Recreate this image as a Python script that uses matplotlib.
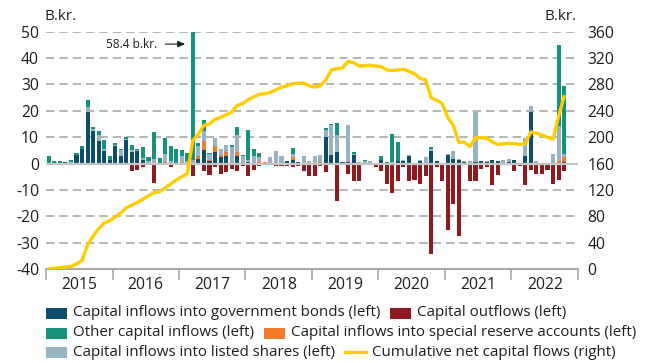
import numpy as np
import matplotlib
matplotlib.use("Agg")
import matplotlib.pyplot as plt
from matplotlib.patches import Rectangle
from matplotlib.lines import Line2D

plt.rcParams['font.family'] = ['Open Sans', 'DejaVu Sans']
plt.rcParams['axes.unicode_minus'] = False

# monthly flows, Jan 2015 - Oct 2022, b.kr.
years = ['2015', '2016', '2017', '2018', '2019', '2020', '2021', '2022']

gov_bonds = [
    0, 0, 0, 0.5, 0, 3.4, 5.7, 19.4, 12.2, 8.4, 4.9, 1.3,
    6.5, 3.0, 8.9, 4.3, 4.9, 1.5, 0, 0, 0, 0, 0, 0,
    0, 0, 0, 1.9, 5.3, 1.0, 4.2, 2.3, 3.0, 0, 2.8, 0,
    0.4, 0, 0, 0, 0, 0, 0, 1.1, 1.5, 0.4, 0, 0,
    0, 0, 9.9, 3.2, 4.2, 0.4, 0.4, 3.2, 0, 0, 0, 0,
    1.5, 0, 0, 1.1, 1.1, 2.7, 0, 1.1, 0, 4.6, 1.1, 0,
    3.4, 1.9, 1.5, 0.4, 0, 0.4, 0.8, 0.5, 1.5, 0.8, 0, 0.4,
    1.5, 0, 3.0, 19.4, 0, 0, 0, 0, 0, 0.6,
]
special_reserve = [
    0, 0, 0, 0, 0, 0, 0, 0, 0, 0, 0, 0,
    0, 0, 0, 0, 0, 0, 0, 0, 0, 0.4, 0, 0,
    0, 0, 0, 0.9, 3.4, 0.4, 2.3, 1.1, 1.5, 0, 1.4, 0,
    0, 0, 0.6, 0.4, 0, 0, 0, 0, 1.1, 0, 0, 0,
    0, 0.4, 0, 0, 0, 0, 0, 0, 0, 0, 0, 0,
    0, 0, 0, 0, 0, 0, 0, 0, 0, 0, 0, 0,
    0, 0, 0, 0, 0, 0, 0, 0, 0, 0, 0, 0,
    0, 0, 0, 0, 0, 0, 0, 0, 1.1, 1.9,
]
listed_shares = [
    0, 0, 0, 0, 0.5, 0, 0, 2.0, 0.8, 2.3, 0.8, 0,
    0.5, 2.2, 0.4, 0.9, 0.3, 0.5, 1.0, 1.9, 0.2, 3.3, 1.1, 0,
    2.7, 1.0, 1.4, 4.0, 3.8, 2.4, 3.0, 2.3, 2.7, 6.1, 6.8, 2.8,
    1.0, 2.7, 2.0, 0, 2.3, 4.6, 3.0, 0, 1.1, 0, 2.7, 0.8,
    3.0, 2.8, 2.7, 11.6, 6.6, 0, 14.1, 0.6, 0.4, 1.1, 0.8, 0.3,
    0, 0, 0.4, 0, 0.4, 0.4, 0, 0.4, 2.3, 1.1, 0, 0,
    0.4, 3.0, 0.4, 0.4, 1.1, 19.0, 0, 0.3, 0, 0, 1.5, 1.5,
    0, 0.2, 6.8, 2.3, 0.8, 0.3, 0.2, 3.8, 13.0, 1.0,
]
other_inflows = [
    2.8, 1.1, 1.1, 0, 0.7, 0.5, 0.9, 2.7, 0.7, 1.6, 3.4, 1.4,
    0.8, 0.5, 0.8, 2.0, 0.5, 4.4, 1.3, 9.9, 1.8, 5.8, 5.4, 5.7,
    2.3, 3.0, 57.0, 0.8, 4.2, 0.3, 0, 0, 0, 0.8, 2.8, 0.4,
    11.5, 2.7, 1.5, 0.3, 0, 0, 0, 0, 2.3, 0, 0, 0,
    0, 0, 0.8, 0.3, 4.4, 0, 0, 0.5, 0, 0.4, 0, 0,
    1.5, 0.4, 10.8, 7.0, 0, 0, 0, 0, 0, 0.4, 0, 0,
    0, 0, 0, 0, 0, 0, 0, 0, 0, 0, 0, 0,
    0, 0, 0, 0, 0, 0, 0, 0, 30.8, 25.9,
]
outflows = [
    0, -0.3, -0.3, 0, 0, -0.3, 0, 0, -0.6, -0.3, -0.3, -0.3,
    -0.6, -0.3, -0.3, -3.0, -2.3, -1.5, -0.3, -7.2, -0.6, -0.4, -1.4, -0.3,
    -0.3, -0.3, -4.9, -0.3, -2.7, -4.2, -1.4, -3.8, -3.4, -1.9, -2.7, -1.1,
    -4.6, -2.3, -0.8, -0.3, 0, -0.8, -0.8, -1.1, -1.5, -1.1, -3.0, -4.9,
    -4.6, -0.8, -3.4, -0.3, -14.3, 0, -3.8, -6.5, -6.5, 0, -0.3, -1.5,
    -3.0, -7.6, -11.0, -6.8, -1.5, -6.5, -6.1, -7.6, -4.6, -34.2, -1.5, -6.8,
    -25.3, -15.4, -27.6, -0.4, -6.5, -6.8, -2.2, -1.4, -8.2, -4.2, -0.4, -0.3,
    -2.9, -1.1, -8.2, -2.5, -3.8, -4.1, -2.3, -7.6, -6.3, -2.9,
]
cumulative = [
    0, 1, 2, 3, 3.8, 7.6, 13, 36, 50, 61, 70, 73,
    79, 85, 93, 97, 101, 106, 111, 116, 117, 123, 129, 135,
    140, 145, 195, 205, 218, 220, 227, 230, 234, 238, 248, 251,
    257, 261, 265, 266, 268, 272, 276, 278, 281, 282, 282, 278,
    276, 278, 287, 302, 304, 305, 315, 313, 308, 308, 309, 308,
    307, 302, 301, 302, 303, 300, 296, 289, 287, 260, 256, 251,
    230, 218, 192, 192, 186, 199, 199, 199, 193, 189, 190, 191,
    190, 189, 190, 208, 206, 203, 200, 197, 232, 262,
]
spike_label = '58.4 b.kr.'

navy = '#0d4c6a'
teal = '#14937a'
grey = '#98b3c2'
orange = '#f47a2a'
red = '#8e1a1f'
yellow = '#ffcc00'
gridc = '#a8a8a8'
textc = '#1e1e1e'

W, H = 645, 363
fig = plt.figure(figsize=(W / 100, H / 100), dpi=100)


def fx(px):
    return px / W


def fy(py):
    return 1 - py / H


ax = fig.add_axes([fx(46), fy(269), fx(578) - fx(46), fy(31.7) - fy(269)])

n = len(cumulative)
x = np.arange(n) + 0.5
bw = 0.74

bottom = np.zeros(n)
for vals, col in [(gov_bonds, navy), (special_reserve, orange),
                  (listed_shares, grey), (other_inflows, teal)]:
    v = np.array(vals, dtype=float)
    ax.bar(x, v, bw, bottom=bottom, color=col, linewidth=0, zorder=2)
    bottom += v
ax.bar(x, outflows, bw, color=red, linewidth=0, zorder=2)

ax.set_xlim(0, 96)
ax.set_ylim(-40, 50)
ax.set_yticks(range(-40, 51, 10))
ax.tick_params(axis='y', length=0, pad=5, labelsize=11.3, colors=textc)

for yv in range(-30, 51, 10):
    if yv == 0:
        continue
    ax.axhline(yv, color=gridc, lw=1.2, dashes=(5, 3), zorder=1)
ax.axhline(0, color='#c4c4c4', lw=1.6, zorder=3)

ax.set_xticks(range(0, 97, 12))
ax.set_xticklabels([])
ax.set_xticks(np.arange(6, 96, 12), minor=True)
ax.set_xticklabels(years, minor=True)
ax.tick_params(axis='x', which='major', length=8, width=1.2, color=gridc)
ax.tick_params(axis='x', which='minor', length=0, pad=6, labelsize=11.3,
               colors=textc)

for s in ['top', 'left', 'right']:
    ax.spines[s].set_visible(False)
ax.spines['bottom'].set_color(gridc)
ax.spines['bottom'].set_linewidth(1.5)

ax2 = ax.twinx()
ax2.plot(x, cumulative, color=yellow, lw=2.4, solid_joinstyle='round',
         solid_capstyle='round', zorder=4)
ax2.set_ylim(0, 360)
ax2.set_yticks(range(0, 361, 40))
ax2.tick_params(axis='y', length=0, pad=7, labelsize=11.3, colors=textc)
for s in ax2.spines.values():
    s.set_visible(False)

ax.annotate(spike_label, xy=(25.1, 45.3), xytext=(20.0, 45.3),
            ha='right', va='center', fontsize=8.6, color=textc,
            arrowprops=dict(arrowstyle='-|>,head_length=0.5,head_width=0.22',
                            color=textc, lw=0.8, shrinkA=4, shrinkB=0))

fig.text(fx(45), fy(17), 'B.kr.', ha='left', va='center', fontsize=11,
         color=textc)
fig.text(fx(577), fy(17), 'B.kr.', ha='right', va='center', fontsize=11,
         color=textc)

# legend laid out in rows, items flowing left to right
legend_rows = [
    [('patch', navy, 'Capital inflows into government bonds (left)'),
     ('patch', red, 'Capital outflows (left)')],
    [('patch', teal, 'Other capital inflows (left)'),
     ('patch', orange, 'Capital inflows into special reserve accounts (left)')],
    [('patch', grey, 'Capital inflows into listed shares (left)'),
     ('line', yellow, 'Cumulative net capital flows (right)')],
]
renderer = fig.canvas.get_renderer()
row_y = [313, 333, 352]
for yrow, items in zip(row_y, legend_rows):
    px = 46
    for kind, col, label in items:
        if kind == 'patch':
            fig.patches.append(Rectangle((fx(px), fy(yrow + 5.5)), fx(21), 11 / H,
                                         transform=fig.transFigure,
                                         facecolor=col, edgecolor='none'))
        else:
            fig.lines.append(Line2D([fx(px), fx(px + 21)], [fy(yrow), fy(yrow)],
                                    transform=fig.transFigure, color=col, lw=2.4))
        t = fig.text(fx(px + 27), fy(yrow), label, ha='left', va='center',
                     fontsize=10.9, color=textc)
        bb = t.get_window_extent(renderer)
        px = bb.x1 + 10

fig.savefig('out.png', dpi=100)
